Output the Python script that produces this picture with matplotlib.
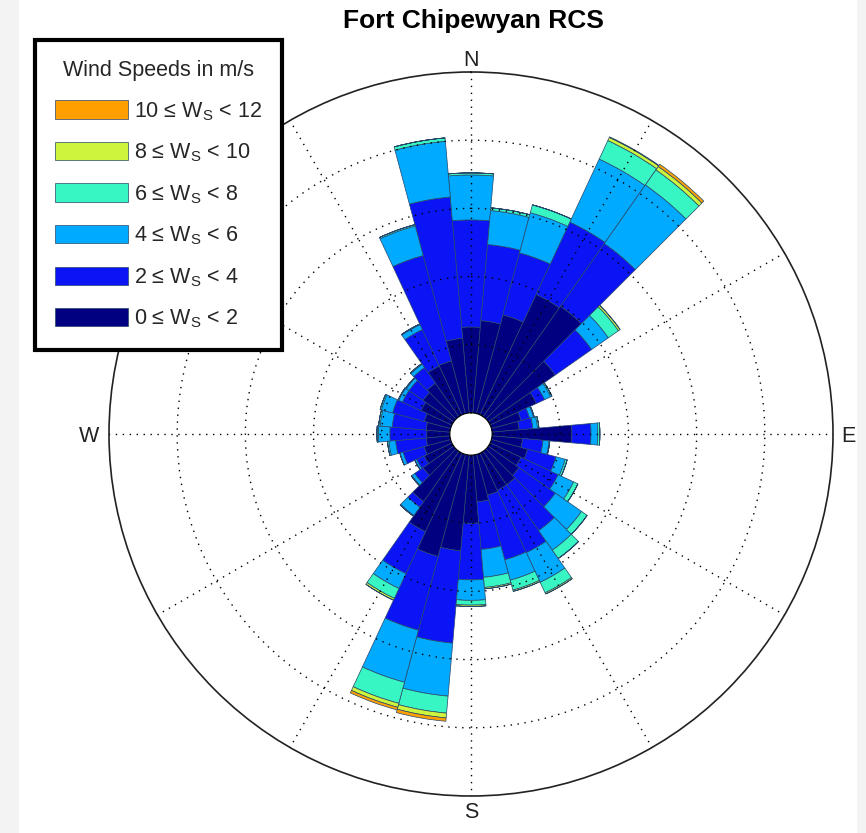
import numpy as np
import matplotlib
matplotlib.use("Agg")
import matplotlib.pyplot as plt
from matplotlib.patches import Rectangle

plt.rcParams['font.family'] = ['Liberation Sans', 'DejaVu Sans']
plt.rcParams['mathtext.fontset'] = 'custom'
plt.rcParams['mathtext.rm'] = 'Liberation Sans'
plt.rcParams['mathtext.it'] = 'Liberation Sans'
plt.rcParams['mathtext.default'] = 'regular'

# ---- data -------------------------------------------------------------
title = "Fort Chipewyan RCS"
legend_title = "Wind Speeds in m/s"
directions = list(range(0, 360, 10))  # degrees, clockwise from North
speed_labels = ["0 \u2264 W$_S$ < 2", "2 \u2264 W$_S$ < 4", "4 \u2264 W$_S$ < 6",
                "6 \u2264 W$_S$ < 8", "8 \u2264 W$_S$ < 10", "10 \u2264 W$_S$ < 12"]
speed_colors = ["#000080", "#0a14f5", "#00aaff", "#38f5c4", "#ccf53c", "#ffa000"]

# frequency contributed by each speed class, one value per direction
ws_0_2 = [1.26, 1.36, 1.50, 1.95, 1.98, 1.20, 0.75, 0.45, 0.40, 1.17, 0.45, 0.55,
          0.50, 0.55, 0.60, 0.60, 0.62, 0.69, 1.00, 1.41, 1.55, 1.27, 0.90, 0.55,
          0.45, 0.40, 0.35, 0.34, 0.35, 0.40, 0.50, 0.55, 0.60, 0.79, 0.80, 1.10]
ws_2_4 = [1.57, 1.12, 0.94, 1.17, 1.12, 0.65, 0.13, 0.13, 0.20, 0.28, 0.30, 0.43,
          0.60, 0.65, 0.82, 1.01, 0.98, 0.70, 0.83, 1.36, 1.12, 0.68, 0.10, 0.15,
          0.12, 0.32, 0.45, 0.54, 0.50, 0.48, 0.30, 0.25, 0.28, 0.59, 1.60, 2.08]
ws_4_6 = [0.66, 0.50, 0.61, 1.02, 1.05, 0.30, 0.10, 0.06, 0.07, 0.10, 0.09, 0.14,
          0.25, 0.47, 0.35, 0.48, 0.31, 0.41, 0.30, 0.78, 0.79, 0.24, 0.15, 0.05,
          0.03, 0.05, 0.10, 0.17, 0.18, 0.17, 0.06, 0.05, 0.06, 0.08, 0.45, 0.82]
ws_6_8 = [0.03, 0.04, 0.12, 0.30, 0.27, 0.18, 0.02, 0.01, 0.02, 0.03, 0.01, 0.03,
          0.07, 0.10, 0.15, 0.17, 0.15, 0.15, 0.07, 0.25, 0.32, 0.16, 0.01, 0.01,
          0.00, 0.00, 0.02, 0.02, 0.02, 0.02, 0.01, 0.01, 0.01, 0.01, 0.02, 0.05]
ws_8_10 = [0, 0, 0, 0.05, 0.06, 0.03, 0, 0, 0, 0, 0, 0,
           0, 0, 0, 0.02, 0.02, 0.02, 0.02, 0.07, 0.06, 0.03, 0, 0,
           0, 0, 0, 0, 0, 0, 0, 0, 0, 0, 0, 0]
ws_10_12 = [0, 0, 0, 0.01, 0.04, 0, 0, 0, 0, 0, 0, 0,
            0, 0, 0, 0, 0, 0, 0, 0.05, 0.04, 0, 0, 0,
            0, 0, 0, 0, 0, 0, 0, 0, 0, 0, 0, 0]
series = [ws_0_2, ws_2_4, ws_4_6, ws_6_8, ws_8_10, ws_10_12]
ring_values = [1, 2, 3, 4]
r_max = 5
compass = ["N", "E", "S", "W"]

# ---- figure -----------------------------------------------------------
W, H = 866, 833
fig = plt.figure(figsize=(W / 100, H / 100), dpi=100)
fig.patches.append(Rectangle((0, 0), 19 / W, 1, transform=fig.transFigure,
                             facecolor="#f3f3f3", edgecolor="none", zorder=-10))
fig.patches.append(Rectangle((857 / W, 0), 1, 1, transform=fig.transFigure,
                             facecolor="#f3f3f3", edgecolor="none", zorder=-10))

cx, cy, R = 471, 434, 362
ax = fig.add_axes([(cx - R) / W, (H - cy - R) / H, 2 * R / W, 2 * R / H],
                  projection="polar")
ax.set_theta_zero_location("N")
ax.set_theta_direction(-1)
ax.set_ylim(0, r_max)
ax.set_rorigin(-0.31)

theta = np.deg2rad(directions)
width = np.deg2rad(10)
bottom = np.zeros(len(directions))
handles = []
for vals, col, lab in zip(series, speed_colors, speed_labels):
    vals = np.asarray(vals, dtype=float)
    bars = ax.bar(theta, vals, width=width, bottom=bottom, color=col,
                  edgecolor="#26466a", linewidth=0.5, label=lab, zorder=1)
    handles.append(bars)
    bottom = bottom + vals

ax.set_xticks(np.deg2rad(np.arange(0, 360, 30)))
ax.set_yticks(ring_values)
ax.set_xticklabels([])
ax.set_yticklabels([])
ax.set_axisbelow(False)
ax.grid(True, color="black", linestyle=(0, (1, 4)), linewidth=1.0)
ax.tick_params(length=0)
ax.spines["polar"].set_linewidth(1.2)
ax.spines["polar"].set_color("#222222")
ax.spines["inner"].set_visible(False)

# compass labels (pixel positions converted to figure fractions)
pos = {"N": (471, 60), "E": (848, 437), "S": (471, 812), "W": (89, 437)}
for c in compass:
    px, py = pos[c]
    fig.text(px / W, 1 - py / H, c, ha="center", va="center",
             fontsize=15.5, color="#222222")

fig.text(473 / W, 1 - 21 / H, title, ha="center", va="center",
         fontsize=19, fontweight="bold")

leg = fig.legend(handles[::-1], speed_labels[::-1], title=legend_title,
                 loc="upper left", bbox_to_anchor=(35 / W, 1 - 40 / H),
                 bbox_transform=fig.transFigure, borderaxespad=0,
                 fontsize=15.5, title_fontsize=15.5, frameon=True, fancybox=False,
                 handlelength=3.4, handleheight=0.93, handletextpad=0.25,
                 labelspacing=0.88, borderpad=0.93)
frame = leg.get_frame()
frame.set_edgecolor("black")
frame.set_linewidth(3)
frame.set_alpha(1)
for t in leg.get_texts():
    t.set_color("#262626")
leg.get_title().set_color("#262626")

fig.savefig("out.png", dpi=100)
